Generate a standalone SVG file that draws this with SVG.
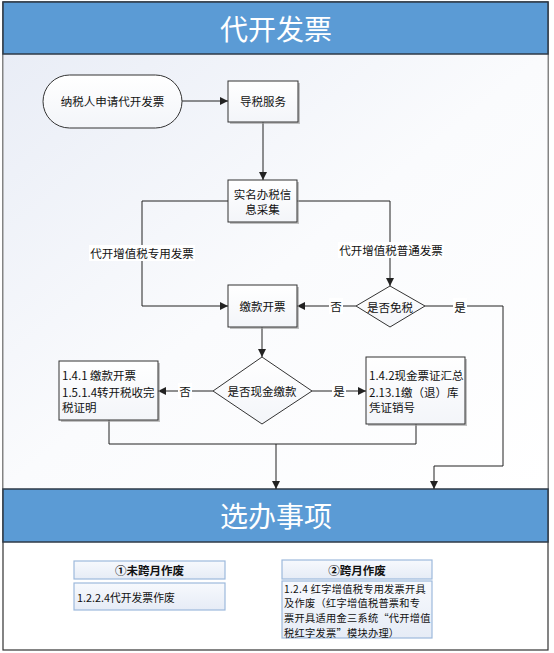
<svg xmlns="http://www.w3.org/2000/svg" width="554" height="653" viewBox="0 0 554 653">
<defs>
<linearGradient id="bg" x1="0" y1="0" x2="1" y2="1">
<stop offset="0" stop-color="#E9EDF6"/>
<stop offset="0.5" stop-color="#FAFBFD"/>
<stop offset="1" stop-color="#FFFFFF"/>
</linearGradient>
<linearGradient id="nodefill" x1="0" y1="0" x2="0" y2="1">
<stop offset="0" stop-color="#FFFFFF"/>
<stop offset="1" stop-color="#F3F5F9"/>
</linearGradient>
<linearGradient id="optfill" x1="0" y1="0" x2="0" y2="1">
<stop offset="0" stop-color="#F7F9FD"/>
<stop offset="1" stop-color="#E6ECF6"/>
</linearGradient>
<marker id="arr" viewBox="0 0 8 8" refX="8" refY="4" markerWidth="8" markerHeight="8" markerUnits="userSpaceOnUse" orient="auto">
<path d="M0,0 L8,4 L0,8 z" fill="#222"/>
</marker>
</defs>
<style>
.hdr{fill:#5B9BD5;stroke:#2E3A47;stroke-width:1.5}
.htxt{font-family:"Noto Sans CJK SC","Liberation Sans",sans-serif;font-size:28px;fill:#FFFFFF;text-anchor:middle;dominant-baseline:central}
.node{fill:url(#nodefill);stroke:#333;stroke-width:1}
.shadow{fill:#9A9A9A;opacity:0.6}
.t{font-family:"Noto Sans CJK SC","Liberation Sans",sans-serif;font-size:11.5px;fill:#111;dominant-baseline:central}
.c{text-anchor:middle}
.lbl{fill:#FFFFFF}
.edge{fill:none;stroke:#222;stroke-width:1}
.opt{fill:url(#optfill);stroke:#9DB9DC;stroke-width:1.2}
.ob{font-family:"Noto Sans CJK SC","Liberation Sans",sans-serif;font-size:11.5px;font-weight:bold;fill:#111;text-anchor:middle;dominant-baseline:central}
.os{font-family:"Noto Sans CJK SC","Liberation Sans",sans-serif;font-size:10.8px;fill:#111;dominant-baseline:central}
.os2{font-family:"Noto Sans CJK SC","Liberation Sans",sans-serif;font-size:10.2px;letter-spacing:0.3px;fill:#111;dominant-baseline:central}
</style>
<rect x="3" y="2" width="545" height="648" fill="#FFFFFF" stroke="#333" stroke-width="1.2"/>
<rect x="3.5" y="54" width="544" height="435" fill="url(#bg)"/>
<g id="header1">
<rect class="hdr" x="3" y="2" width="545" height="52"/>
<text class="htxt" x="276" y="28">代开发票</text>
</g>
<g id="header2">
<rect class="hdr" x="3" y="489" width="545" height="53"/>
<text class="htxt" x="276" y="515">选办事项</text>
</g>
<g id="connectors">
<path class="edge" d="M182,101 H228" marker-end="url(#arr)"/>
<path class="edge" d="M263,122 V180" marker-end="url(#arr)"/>
<path class="edge" d="M228,201 H142 V306 H228" marker-end="url(#arr)"/>
<path class="edge" d="M297,201 H390 V286" marker-end="url(#arr)"/>
<path class="edge" d="M356,306 H297" marker-end="url(#arr)"/>
<path class="edge" d="M425,306 H503 V466 H434 V489" marker-end="url(#arr)"/>
<path class="edge" d="M262,327 V357" marker-end="url(#arr)"/>
<path class="edge" d="M213,391 H158" marker-end="url(#arr)"/>
<path class="edge" d="M312,391 H366" marker-end="url(#arr)"/>
<path class="edge" d="M109,420 V444 H416 V424"/>
<path class="edge" d="M276,444 V489" marker-end="url(#arr)"/>
<rect class="lbl" x="89" y="245" width="106" height="16"/>
<text class="t c" x="142" y="253">代开增值税专用发票</text>
<rect class="lbl" x="338" y="242" width="106" height="16"/>
<text class="t c" x="391" y="250">代开增值税普通发票</text>
<rect class="lbl" x="329" y="298" width="14" height="16"/>
<text class="t c" x="336" y="306">否</text>
<rect class="lbl" x="453" y="298" width="14" height="16"/>
<text class="t c" x="460" y="307">是</text>
<rect class="lbl" x="178" y="383" width="14" height="16"/>
<text class="t c" x="185" y="391">否</text>
<rect class="lbl" x="332" y="383" width="14" height="16"/>
<text class="t c" x="339" y="391">是</text>
</g>
<g id="start">
<rect class="node" x="43" y="75" width="139" height="53" rx="26.5"/>
<text class="t c" x="112.5" y="101">纳税人申请代开发票</text>
</g>
<g id="guide">
<rect class="shadow" x="230" y="83" width="70" height="41"/>
<rect class="node" x="228" y="81" width="70" height="41"/>
<text class="t c" x="263" y="101">导税服务</text>
</g>
<g id="realname">
<rect class="shadow" x="230" y="182" width="69" height="42"/>
<rect class="node" x="228" y="180" width="69" height="42"/>
<text class="t c" x="262.5" y="194">实名办税信<tspan x="262.5" dy="15">息采集</tspan></text>
</g>
<g id="pay">
<rect class="shadow" x="230" y="287" width="69" height="42"/>
<rect class="node" x="228" y="285" width="69" height="42"/>
<text class="t c" x="262.5" y="306">缴款开票</text>
</g>
<g id="exempt">
<polygon class="node" points="356,306 390,286 425,306 390,327"/>
<text class="t c" x="390" y="307">是否免税</text>
</g>
<g id="cash">
<polygon class="node" points="213,391 262,357 312,391 262,424"/>
<text class="t c" x="262" y="391">是否现金缴款</text>
</g>
<g id="noncash">
<rect class="shadow" x="61" y="363" width="99" height="59"/>
<rect class="node" x="59" y="361" width="99" height="59"/>
<text class="t" x="62" y="375">1.4.1 缴款开票<tspan x="62" dy="17">1.5.1.4转开税收完</tspan><tspan x="62" dy="15">税证明</tspan></text>
</g>
<g id="cashbox">
<rect class="shadow" x="368" y="359" width="99" height="67"/>
<rect class="node" x="366" y="357" width="99" height="67"/>
<text class="t" x="369" y="375">1.4.2现金票证汇总<tspan x="369" dy="17">2.13.1缴（退）库</tspan><tspan x="369" dy="15">凭证销号</tspan></text>
</g>
<g id="opt1">
<rect class="opt" x="74" y="561" width="151" height="18"/>
<text class="ob" x="149.5" y="570">①未跨月作废</text>
<rect class="opt" x="74" y="583" width="151" height="27"/>
<text class="os" x="77" y="597">1.2.2.4代开发票作废</text>
</g>
<g id="opt2">
<rect class="opt" x="282" y="560" width="150" height="19"/>
<text class="ob" x="357" y="569.5">②跨月作废</text>
<rect class="opt" x="282" y="581" width="150" height="57"/>
<text class="os2" x="284" y="588">1.2.4 红字增值税专用发票开具</text>
<text class="os2" x="284" y="602.8">及作废（红字增值税普票和专</text>
<text class="os2" x="284" y="617.6">票开具适用金三系统“代开增值</text>
<text class="os2" x="284" y="632.4">税红字发票”模块办理）</text>
</g>
</svg>
